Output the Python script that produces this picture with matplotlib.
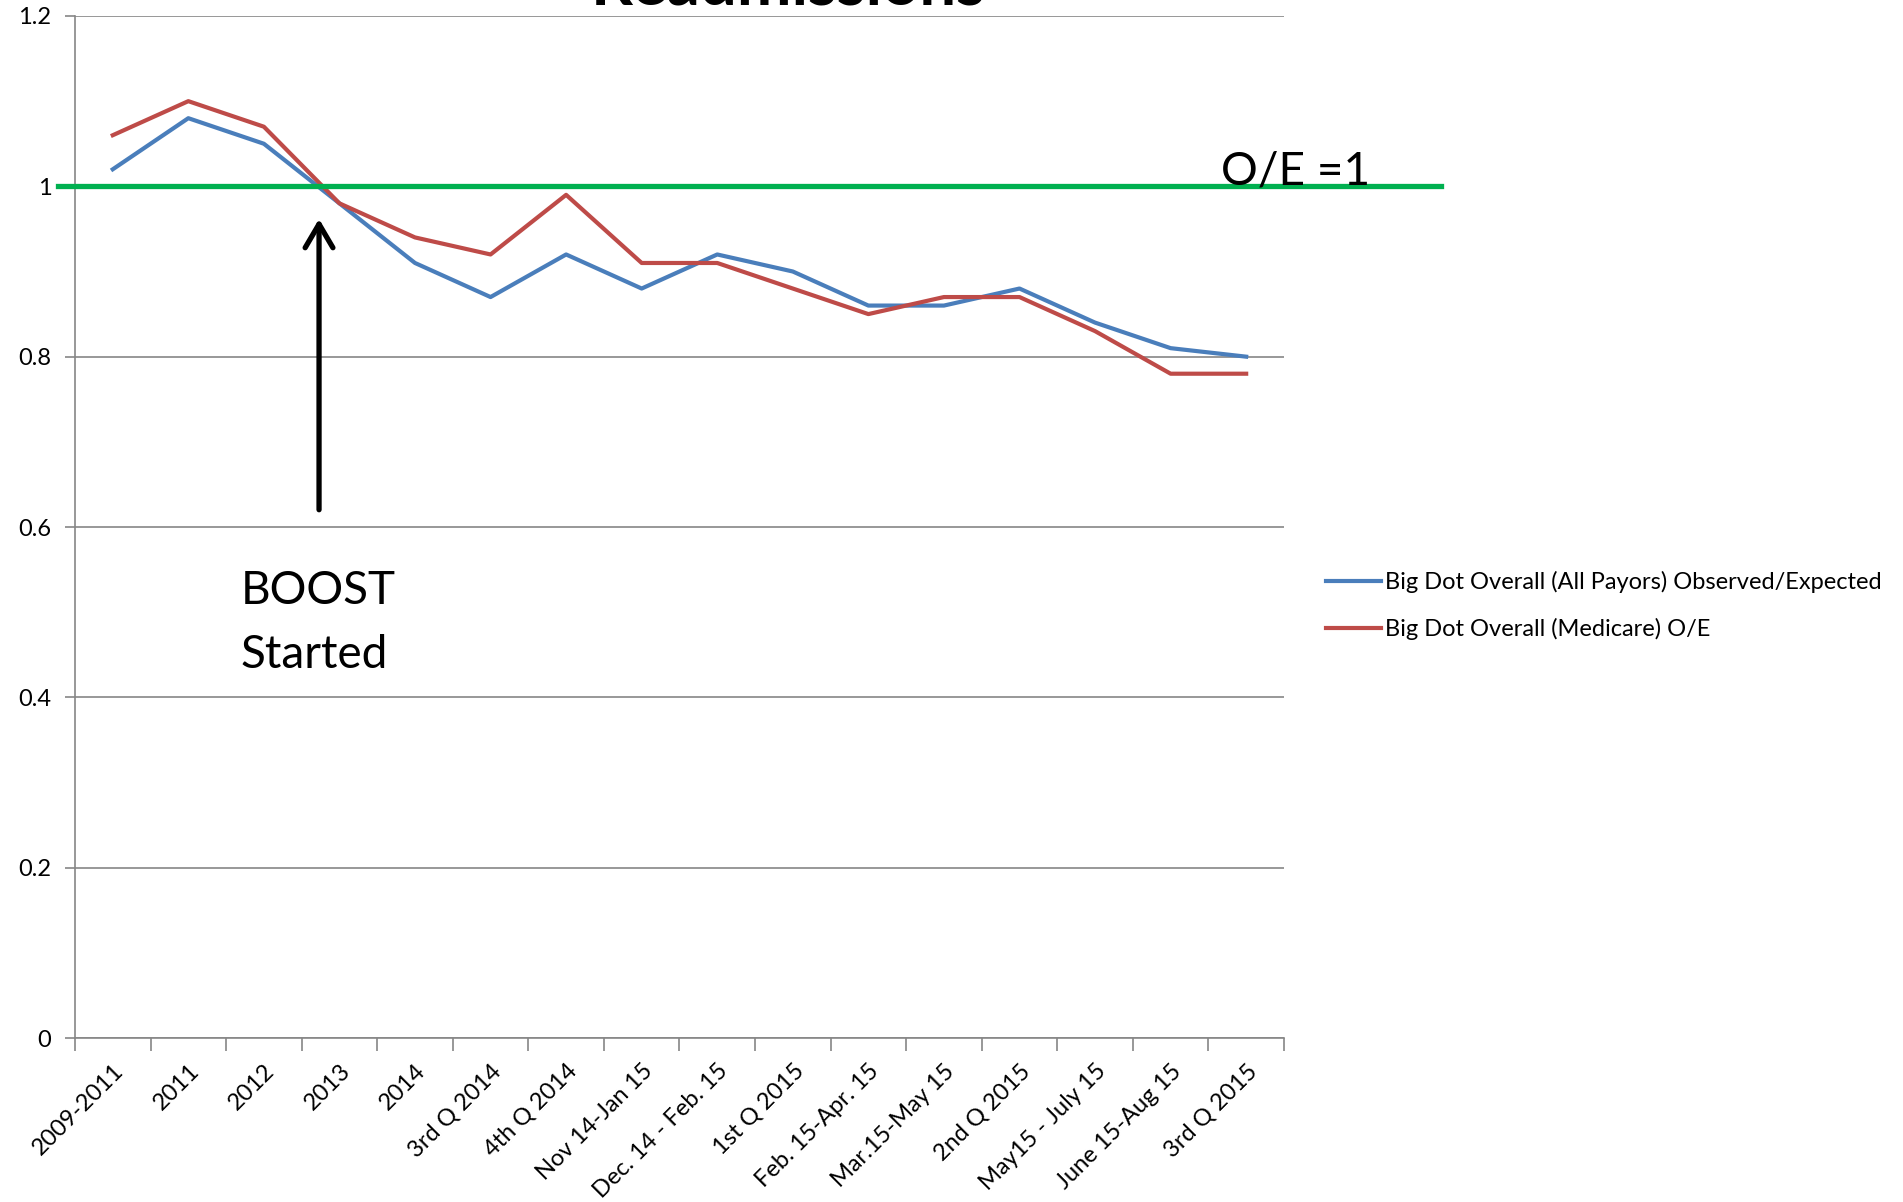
import numpy as np
import matplotlib
matplotlib.use("Agg")
import matplotlib.pyplot as plt

plt.rcParams['font.family'] = ['Lato', 'DejaVu Sans']

# 数据
categories = ["2009-2011", "2011", "2012", "2013", "2014", "3rd Q 2014", "4th Q 2014",
              "Nov 14-Jan 15", "Dec. 14 - Feb. 15", "1st Q 2015", "Feb. 15-Apr. 15",
              "Mar.15-May 15", "2nd Q 2015", "May15 - July 15", "June 15-Aug 15", "3rd Q 2015"]
all_payors = [1.02, 1.08, 1.05, 0.98, 0.91, 0.87, 0.92, 0.88, 0.92, 0.90, 0.86, 0.86, 0.88, 0.84, 0.81, 0.80]
medicare = [1.06, 1.10, 1.07, 0.98, 0.94, 0.92, 0.99, 0.91, 0.91, 0.88, 0.85, 0.87, 0.87, 0.83, 0.78, 0.78]
yticks = [0, 0.2, 0.4, 0.6, 0.8, 1.0, 1.2]
ytick_labels = ["0", "0.2", "0.4", "0.6", "0.8", "1", "1.2"]
oe_level = 1.0
boost_pos = 2.73      # 箭头所在的类别位置
boost_from = 0.617
boost_to = 0.965

blue = '#4A7EBB'
red = '#BE4B48'
green = '#00B050'
grid_c = '#868686'

fig = plt.figure(figsize=(19.03, 12.02), dpi=100)
ax = fig.add_axes([0.0394, 0.1364, 0.6353, 0.8503])

x = np.arange(len(categories))
ax.plot(x, all_payors, color=blue, lw=3.0, solid_joinstyle='round', label="Big Dot Overall (All Payors) Observed/Expected")
ax.plot(x, medicare, color=red, lw=3.0, solid_joinstyle='round', label="Big Dot Overall (Medicare) O/E")

ax.set_xlim(-0.5, len(categories) - 0.5)
ax.set_ylim(0, 1.2)
ax.set_yticks(yticks)
ax.set_yticklabels(ytick_labels)
ax.yaxis.grid(True, color=grid_c, lw=1.2)
ax.set_axisbelow(True)

# x轴: 分隔刻度在类别之间, 标签在中心
ax.set_xticks(np.arange(-0.5, len(categories)), minor=False)
ax.set_xticklabels([])
ax.set_xticks(x, minor=True)
ax.set_xticklabels(categories, minor=True, rotation=45, ha='right', rotation_mode='anchor')
ax.tick_params(axis='x', which='major', length=9, color=grid_c, width=1.2)
ax.tick_params(axis='x', which='minor', length=0, pad=16, labelsize=17)
ax.tick_params(axis='y', length=7, color=grid_c, width=1.2, labelsize=17, pad=10)

for s in ['top', 'right']:
    ax.spines[s].set_visible(False)
for s in ['left', 'bottom']:
    ax.spines[s].set_color(grid_c)
    ax.spines[s].set_linewidth(1.2)

# O/E = 1 参考线
ax.axhline(oe_level, xmin=-0.014, xmax=1.1295, color=green, lw=3.8, clip_on=False, zorder=3)
ax.text(1.0 - 0.052, oe_level + 0.017, "O/E =1", transform=ax.get_yaxis_transform(), fontsize=33,
        ha='left', va='center')

# BOOST 箭头
ax.annotate("", xy=(boost_pos, boost_to), xytext=(boost_pos, boost_from),
            arrowprops=dict(arrowstyle='->,head_length=1.7,head_width=1.0', color='black', lw=3.8))
ax.text(1.69, 0.487, "BOOST\nStarted", fontsize=33, ha='left', va='center', linespacing=1.65)

# 标题 (被裁掉了一部分)
fig.text(0.414, 1 - 4.5 / 1202, "Readmissions", fontsize=47, fontweight='bold', ha='center', va='baseline')

ax.legend(loc='center left', bbox_to_anchor=(0.697, 0.496), bbox_transform=fig.transFigure,
          frameon=False, fontsize=17, handlelength=2.3, handletextpad=0.2, labelspacing=1.05,
          borderpad=0, borderaxespad=0)

fig.savefig('out.png', dpi=100)
